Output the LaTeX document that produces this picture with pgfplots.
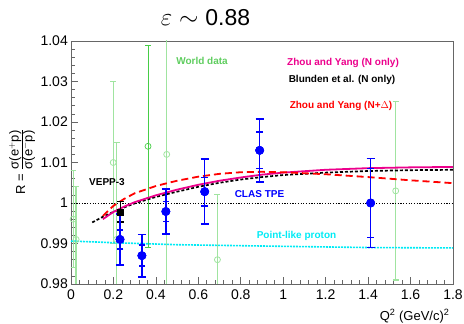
\documentclass[border=0pt]{standalone}
\usepackage{pgfplots}
\pgfplotsset{compat=1.18}
\usepackage{fontspec}
\setmainfont{Liberation Sans}
\definecolor{wgreen}{RGB}{95,205,95}
\definecolor{lgreen}{RGB}{160,228,160}
\definecolor{mgreen}{RGB}{70,205,70}
\definecolor{cyanc}{RGB}{0,235,245}

\pgfplotstableread{
x y e
0.010 0.996 0.012
0.024 0.991 0.013
0.199 1.010 0.020
0.215 0.991 0.024
0.451 1.012 0.035
0.690 0.986 0.016
1.530 1.003 0.022
}\worldlight

\pgfplotstableread{
x y e
0.363 1.014 0.025
}\worlddark

\pgfplotstableread{
x y ei eo
0.231 0.9910 0.0023 0.0063
0.334 0.9870 0.0026 0.0052
0.447 0.9979 0.0025 0.0056
0.630 1.0028 0.0035 0.0080
0.889 1.0130 0.0045 0.0078
1.412 1.0000 0.0085 0.0110
}\clas

\pgfplotstableread{
x y e
0.234 0.9978 0.0025
}\vepp

\begin{document}
\begin{tikzpicture}
\path[use as bounding box] (0,0) rectangle (464pt,324pt);
\begin{axis}[
 scale only axis, width=382pt, height=243pt,
 at={(71pt,40pt)}, anchor=south west,
 xmin=0,xmax=1.8,ymin=0.98,ymax=1.04,
 xtick={0,0.2,0.4,0.6,0.8,1,1.2,1.4,1.6,1.8},
 xticklabels={0,0.2,0.4,0.6,0.8,1,1.2,1.4,1.6,1.8},
 ytick={0.98,0.99,1,1.01,1.02,1.03,1.04},
 yticklabels={0.98,0.99,1,1.01,1.02,1.03,1.04},
 minor x tick num=4, minor y tick num=4,
 tick align=inside, tick pos=left,
 major tick length=7pt, minor tick length=4pt,
 axis line style={black!60, line width=0.8pt},
 every tick/.style={black!60, line width=0.7pt},
 xticklabel style={font=\fontsize{14}{14}\selectfont, inner sep=0pt, anchor=north, yshift=-6pt},
 yticklabel style={font=\fontsize{14}{14}\selectfont, inner sep=0pt, anchor=east, xshift=-3pt},
]
% world data
\addplot[only marks, mark=o, mark size=3pt, color=lgreen, mark options={line width=0.8pt},
  error bars/.cd, y dir=both, y explicit,
  error bar style={line width=1.2pt, color=lgreen},
  error mark options={rotate=90, mark size=3pt, line width=1.2pt, color=lgreen}]
  table[x=x,y=y,y error=e] {\worldlight};
\addplot[only marks, mark=o, mark size=3pt, color=mgreen, mark options={line width=0.7pt},
  error bars/.cd, y dir=both, y explicit,
  error bar style={line width=0.8pt, color=mgreen},
  error mark options={rotate=90, mark size=3pt, line width=0.8pt, color=mgreen}]
  table[x=x,y=y,y error=e] {\worlddark};
% unity line
\addplot[black, line width=0.8pt, dash pattern=on 1.2pt off 1.5pt] coordinates {(0,1) (1.8,1)};
% point-like proton
\addplot[cyanc, line width=1.6pt, dash pattern=on 2pt off 1pt] coordinates {
(0,0.9906) (0.2,0.9902) (0.5,0.9897) (1.0,0.9893) (1.4,0.9890) (1.8,0.9889)};
% Blunden
\addplot[black, line width=1.7pt, dash pattern=on 3pt off 2pt] coordinates {
(0.1,0.9952) (0.15,0.9966) (0.2,0.9978) (0.25,0.9989) (0.3,0.9999) (0.4,1.0015) (0.5,1.0028)
(0.6,1.0040) (0.7,1.0050) (0.8,1.0058) (0.9,1.0064) (1.0,1.0069) (1.2,1.0075) (1.4,1.0079)
(1.6,1.0081) (1.8,1.0082)};
% Zhou Yang N only
\addplot[magenta, line width=1.8pt] coordinates {
(0.15,0.9960) (0.2,0.9978) (0.25,0.9991) (0.3,1.0002) (0.4,1.0019) (0.5,1.0033) (0.6,1.0045)
(0.7,1.0055) (0.8,1.0063) (0.9,1.0070) (1.0,1.0075) (1.2,1.0082) (1.4,1.0086) (1.6,1.0088) (1.8,1.0089)};
% Zhou Yang N+Delta
\addplot[red, line width=1.8pt, dash pattern=on 7pt off 4pt] coordinates {
(0.15,0.9968) (0.2,0.9993) (0.25,1.0010) (0.3,1.0024) (0.4,1.0042) (0.5,1.0055) (0.6,1.0065)
(0.7,1.0072) (0.8,1.0076) (0.9,1.0077) (1.0,1.0076) (1.2,1.0071) (1.4,1.0064) (1.6,1.0056) (1.8,1.0049)};
% VEPP-3
\addplot[only marks, mark=square*, mark size=3pt, black,
  error bars/.cd, y dir=both, y explicit,
  error bar style={line width=1.2pt, black},
  error mark options={rotate=90, mark size=3.3pt, line width=1.2pt, black}]
  table[x=x,y=y,y error=e] {\vepp};
% CLAS outer
\addplot[only marks, mark=*, mark size=4.2pt, blue,
  error bars/.cd, y dir=both, y explicit,
  error bar style={line width=1.6pt, blue},
  error mark options={rotate=90, mark size=4pt, line width=1.6pt, blue}]
  table[x=x,y=y,y error=eo] {\clas};
% CLAS inner
\addplot[only marks, mark=*, mark size=4.2pt, blue,
  error bars/.cd, y dir=both, y explicit,
  error bar style={line width=1.6pt, blue},
  error mark options={rotate=90, mark size=3.3pt, line width=1.6pt, blue}]
  table[x=x,y=y,y error=ei] {\clas};
\end{axis}
% texts
\node[font=\fontsize{23}{26}\selectfont] at (205.5pt,306pt) {$\varepsilon\sim{}$0.88};
\node[font=\bfseries\fontsize{10}{12}\selectfont, text=wgreen] at (202pt,263pt) {World data};
\node[font=\bfseries\fontsize{10}{12}\selectfont, text=magenta] at (343pt,261pt) {Zhou and Yang (N only)};
\node[font=\bfseries\fontsize{10}{12}\selectfont, text=black] at (342pt,244pt) {Blunden et al. (N only)};
\node[font=\bfseries\fontsize{10}{12}\selectfont, text=red] at (341pt,218pt) {Zhou and Yang (N+$\Delta$)};
\node[font=\bfseries\fontsize{10}{12}\selectfont, text=black] at (107pt,142pt) {VEPP-3};
\node[font=\bfseries\fontsize{10}{12}\selectfont, text=blue] at (259.5pt,130pt) {CLAS TPE};
\node[font=\bfseries\fontsize{10}{12}\selectfont, text=cyanc] at (296.5pt,88.3pt) {Point-like proton};
\node[rotate=90, font=\fontsize{13}{15}\selectfont] at (22pt,162pt)
  {R = $\frac{\mbox{σ(e$^{+}$p)}}{\mbox{σ(e$^{-}$p)}}$};
\node[anchor=east, font=\fontsize{13}{15}\selectfont] at (453pt,8pt) {Q\textsuperscript{2} (GeV/c)\textsuperscript{2}};
\end{tikzpicture}
\end{document}
